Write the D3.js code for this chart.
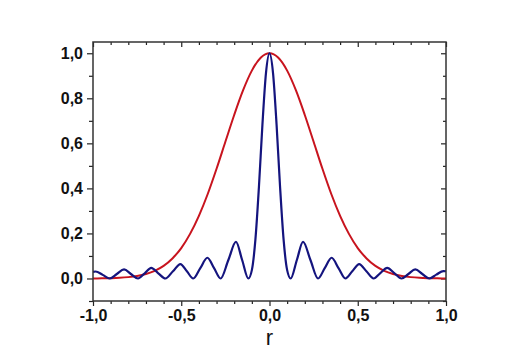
<!DOCTYPE html>
<html><head><meta charset="utf-8">
<script src="https://cdn.jsdelivr.net/npm/d3@7"></script>
<style>
html,body{margin:0;padding:0;background:#fff;}
svg{display:block;}
</style>
</head><body>
<svg id="chart" width="518" height="361"></svg>
<script>
// ---- data ----
const xMajorTicks = [-1.0, -0.5, 0.0, 0.5, 1.0];
const xMinorTicks = [-0.9,-0.8,-0.7,-0.6,-0.4,-0.3,-0.2,-0.1,0.1,0.2,0.3,0.4,0.6,0.7,0.8,0.9];
const yMajorTicks = [0.0, 0.2, 0.4, 0.6, 0.8, 1.0];
const yMinorTicks = [-0.1, 0.1, 0.3, 0.5, 0.7, 0.9];
const xLabel = "r";

// red curve (broad profile)
const redR = [-1.0,-0.95,-0.9,-0.85,-0.8,-0.75,-0.7,-0.65,-0.6,-0.55,-0.5,-0.45,-0.4,-0.35,-0.3,-0.25,-0.2,-0.15,-0.1,-0.05,
  0.0,0.05,0.1,0.15,0.2,0.25,0.3,0.35,0.4,0.45,0.5,0.55,0.6,0.65,0.7,0.75,0.8,0.85,0.9,0.95,1.0];
const redI = [0.0003,0.0007,0.0015,0.003,0.006,0.011,0.020,0.034,0.056,0.089,0.135,0.198,0.278,0.375,0.487,0.607,0.726,0.835,0.923,0.980,
  1.0,0.980,0.923,0.835,0.726,0.607,0.487,0.375,0.278,0.198,0.135,0.089,0.056,0.034,0.020,0.011,0.006,0.003,0.0015,0.0007,0.0003];

// blue curve (narrow central peak with side lobes)
const blueR = [-1.0,-0.985,-0.945,-0.905,-0.865,-0.824,-0.785,-0.745,-0.707,-0.67,-0.63,-0.59,-0.547,-0.505,-0.468,-0.432,
  -0.392,-0.352,-0.314,-0.277,-0.233,-0.19,-0.155,-0.12,-0.10,-0.08,-0.06,-0.04,-0.02,
  0.0,0.02,0.04,0.06,0.08,0.10,0.12,0.155,0.19,0.232,0.275,0.313,0.352,0.391,0.43,0.469,0.508,0.549,0.59,
  0.628,0.667,0.707,0.748,0.787,0.826,0.866,0.906,0.945,0.985,1.0];
const blueI = [0.029,0.031,0.016,0.0,0.020,0.040,0.020,0.0,0.023,0.047,0.023,0.0,0.032,0.064,0.032,0.0,
  0.046,0.092,0.046,0.0,0.082,0.163,0.082,0.0,0.037,0.171,0.405,0.684,0.912,
  1.0,0.912,0.684,0.405,0.171,0.037,0.0,0.082,0.163,0.082,0.0,0.046,0.092,0.046,0.0,0.032,0.064,0.032,0.0,
  0.024,0.047,0.024,0.0,0.020,0.040,0.020,0.0,0.017,0.033,0.032];

// ---- drawing ----
const svg = d3.select("#chart");
const L = 93, R = 446, T = 42, B = 301;
const x = d3.scaleLinear().domain([-1, 1]).range([L, R]);
const y = d3.scaleLinear().domain([-0.1, 1.05]).range([B, T]);

const fmt = v => d3.format(".1f")(v).replace(".", ",").replace("\u2212", "-");
const font = "'Liberation Sans', Arial, sans-serif";

function styleAxis(g) {
  g.select(".domain").remove();
  g.selectAll("line").attr("stroke", "#222").attr("stroke-width", 1.2);
  g.selectAll("text").attr("fill", "#111").style("font-family", font)
    .style("font-size", "16px").style("font-weight", "bold");
}

// bottom (outward)
svg.append("g").attr("transform", `translate(0,${B})`)
  .call(d3.axisBottom(x).tickValues(xMajorTicks).tickFormat(fmt).tickSize(5).tickPadding(4))
  .call(styleAxis);
svg.append("g").attr("transform", `translate(0,${B})`)
  .call(d3.axisBottom(x).tickValues(xMinorTicks).tickFormat("").tickSize(3))
  .call(styleAxis);
// top (inward)
svg.append("g").attr("transform", `translate(0,${T})`)
  .call(d3.axisBottom(x).tickValues(xMajorTicks).tickFormat("").tickSize(5))
  .call(styleAxis);
svg.append("g").attr("transform", `translate(0,${T})`)
  .call(d3.axisBottom(x).tickValues(xMinorTicks).tickFormat("").tickSize(3))
  .call(styleAxis);
// left (outward)
svg.append("g").attr("transform", `translate(${L},0)`)
  .call(d3.axisLeft(y).tickValues(yMajorTicks).tickFormat(fmt).tickSize(6).tickPadding(4))
  .call(styleAxis);
svg.append("g").attr("transform", `translate(${L},0)`)
  .call(d3.axisLeft(y).tickValues(yMinorTicks).tickFormat("").tickSize(4))
  .call(styleAxis);
// right (inward)
svg.append("g").attr("transform", `translate(${R},0)`)
  .call(d3.axisLeft(y).tickValues(yMajorTicks).tickFormat("").tickSize(5))
  .call(styleAxis);
svg.append("g").attr("transform", `translate(${R},0)`)
  .call(d3.axisLeft(y).tickValues(yMinorTicks).tickFormat("").tickSize(3))
  .call(styleAxis);

// clip for curves
svg.append("clipPath").attr("id", "clip").append("rect")
  .attr("x", L).attr("y", T).attr("width", R - L).attr("height", B - T);

const line = d3.line().x(d => x(d[0])).y(d => y(d[1])).curve(d3.curveMonotoneX);

svg.append("path").datum(redR.map((r, i) => [r, redI[i]]))
  .attr("clip-path", "url(#clip)")
  .attr("fill", "none").attr("stroke", "#c8141e").attr("stroke-width", 2)
  .attr("d", line);

svg.append("path").datum(blueR.map((r, i) => [r, blueI[i]]))
  .attr("clip-path", "url(#clip)")
  .attr("fill", "none").attr("stroke", "#14147e").attr("stroke-width", 2.2)
  .attr("stroke-linejoin", "round")
  .attr("d", line);

// frame
svg.append("rect").attr("x", L).attr("y", T).attr("width", R - L).attr("height", B - T)
  .attr("fill", "none").attr("stroke", "#333").attr("stroke-width", 1.5);

// axis title
svg.append("text").attr("x", x(0)).attr("y", 345).attr("text-anchor", "middle")
  .attr("fill", "#111").style("font-family", font).style("font-size", "22px")
  .text(xLabel);
</script>
</body></html>
